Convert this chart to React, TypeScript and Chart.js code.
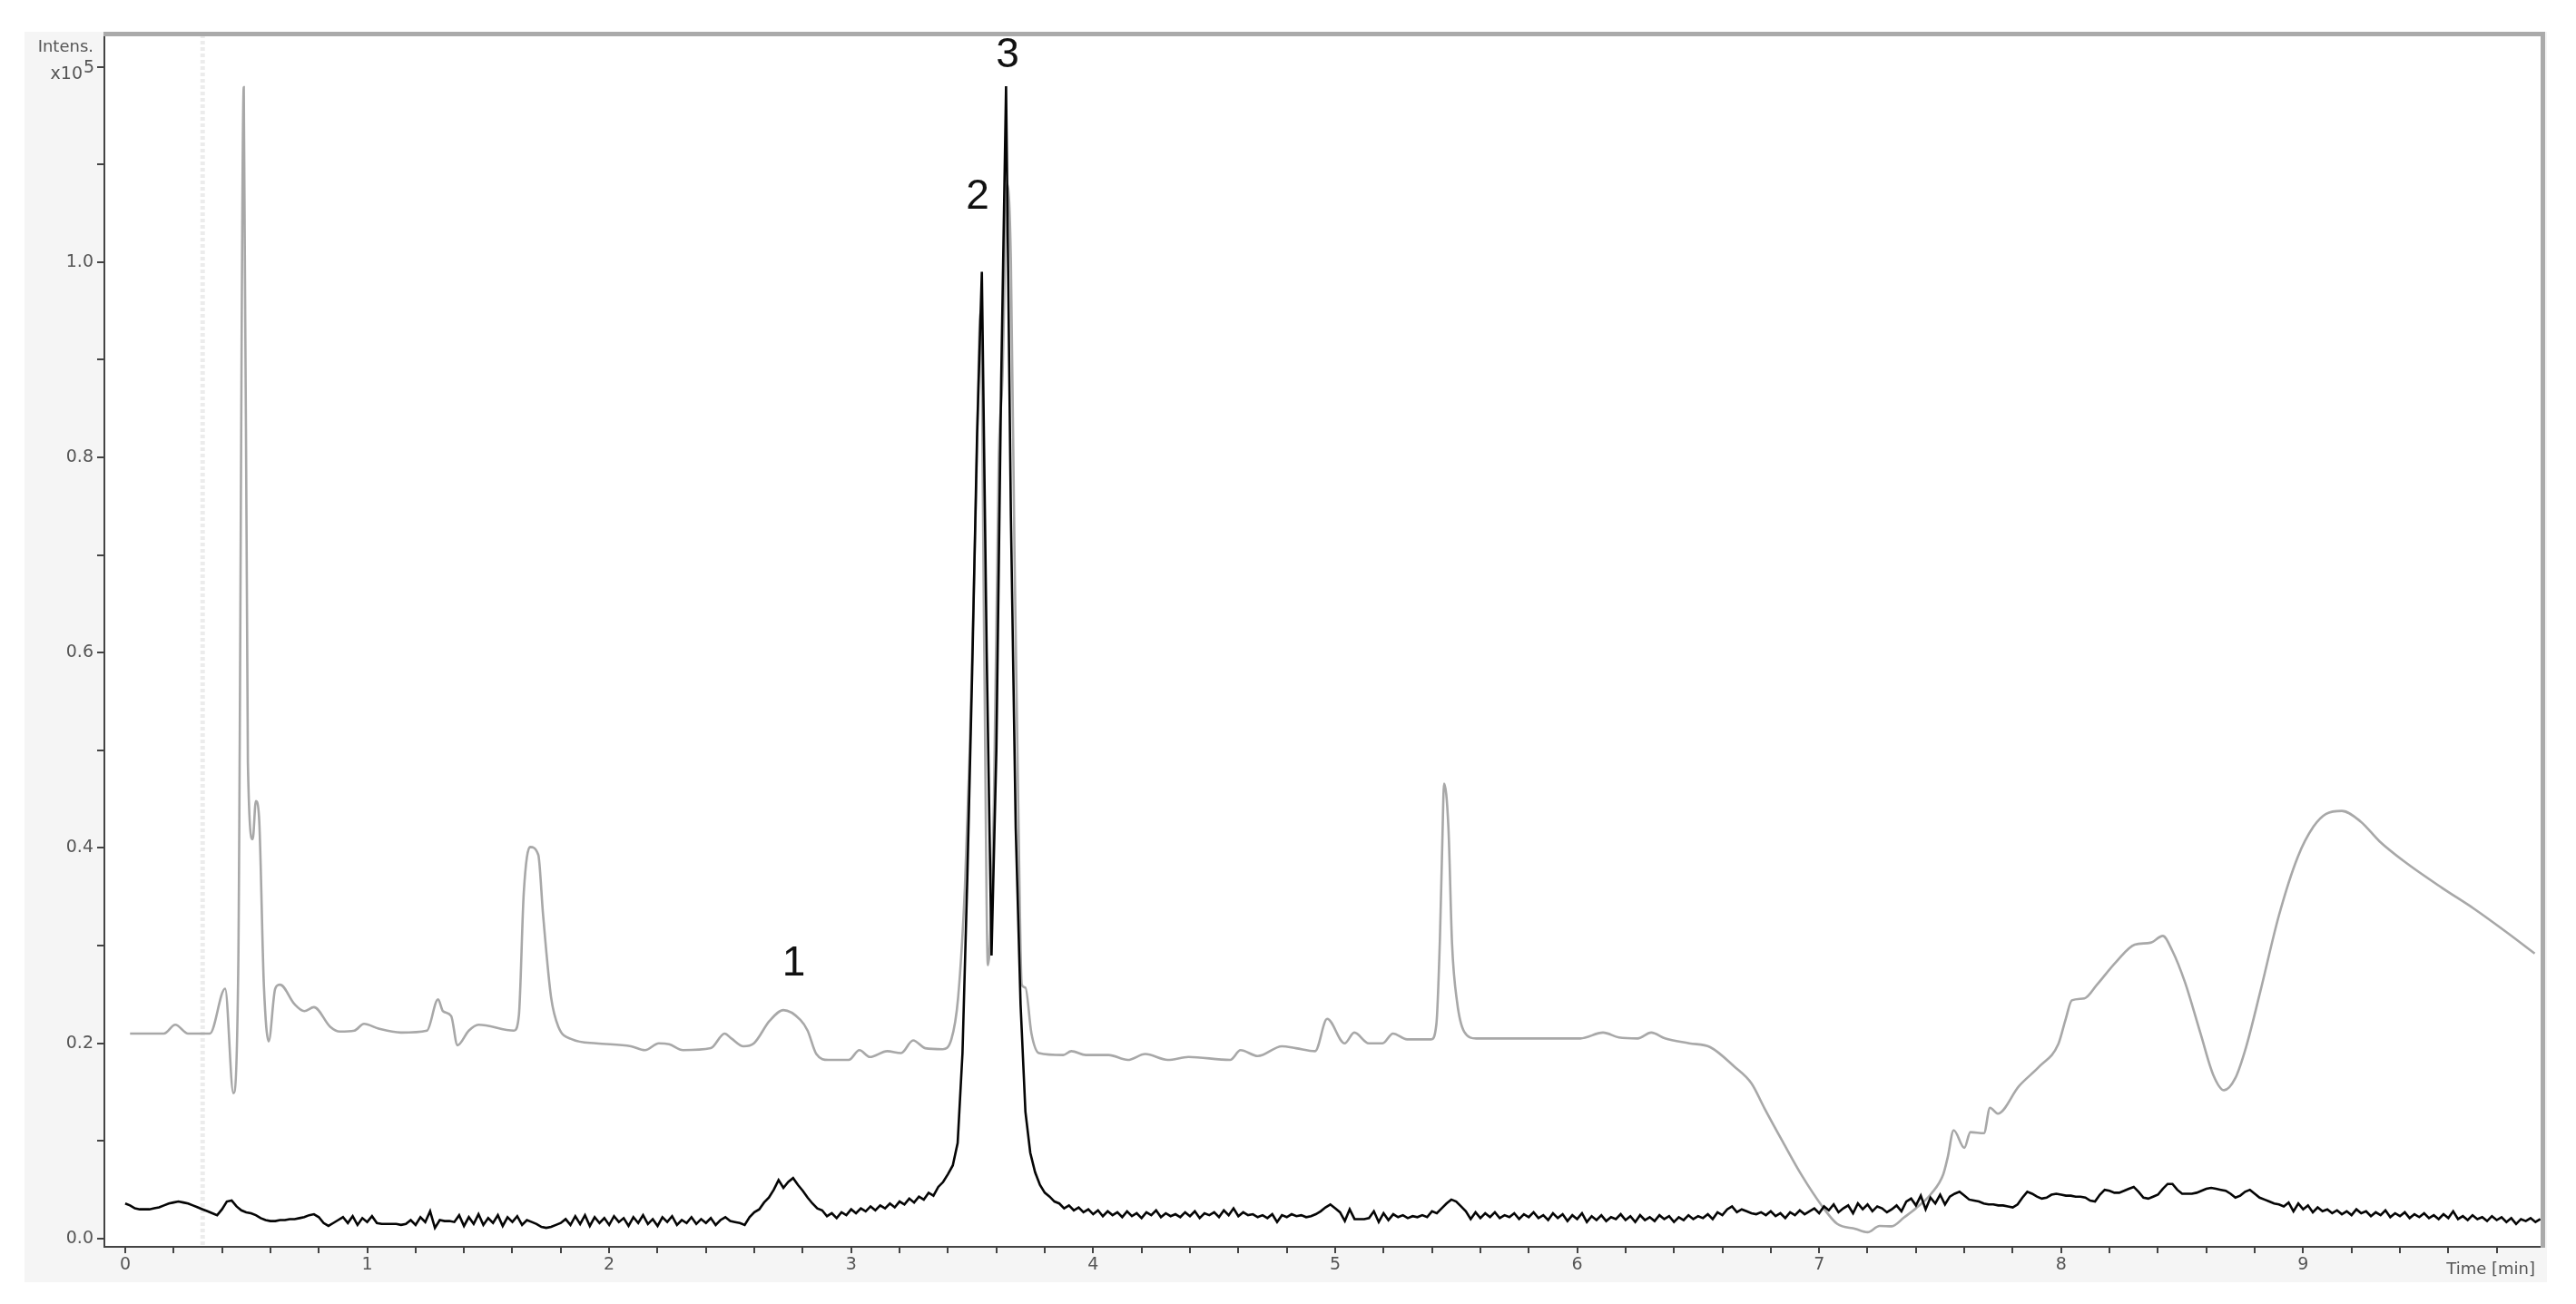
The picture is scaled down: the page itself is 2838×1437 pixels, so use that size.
import React, { useEffect, useRef } from 'react';
import { Chart, registerables } from 'chart.js';

Chart.register(...registerables);

// ---- DATA ----
// Black trace (EIC), sampled every 0.02 min from 0.00 min, intensity in x10^5
const BLACK_T0 = 0;
const BLACK_STEP = 0.02;
const BLACK_VALUES = [
  0.036, 0.034, 0.031, 0.030, 0.030, 0.030, 0.031, 0.032, 0.034, 0.036, 0.037, 0.038, 0.037, 0.036, 0.034, 0.032, 0.030, 0.028, 0.026, 0.024, 0.030, 0.038, 0.039, 0.033, 0.029,
  0.027, 0.026, 0.024, 0.021, 0.019, 0.018, 0.018, 0.019, 0.019, 0.020, 0.020, 0.021, 0.022, 0.024, 0.025, 0.022, 0.016, 0.013, 0.016, 0.019, 0.022, 0.016, 0.023, 0.014, 0.021,
  0.017, 0.023, 0.016, 0.015, 0.015, 0.015, 0.015, 0.014, 0.015, 0.019, 0.014, 0.022, 0.017, 0.028, 0.011, 0.019, 0.018, 0.018, 0.017, 0.024, 0.013, 0.022, 0.015, 0.025, 0.014,
  0.021, 0.016, 0.024, 0.013, 0.022, 0.017, 0.023, 0.014, 0.019, 0.017, 0.015, 0.012, 0.011, 0.012, 0.014, 0.016, 0.020, 0.014, 0.023, 0.015, 0.024, 0.013, 0.022, 0.016, 0.021,
  0.014, 0.023, 0.017, 0.021, 0.013, 0.022, 0.016, 0.024, 0.015, 0.020, 0.013, 0.022, 0.017, 0.023, 0.014, 0.019, 0.016, 0.022, 0.015, 0.020, 0.016, 0.021, 0.014, 0.019, 0.022,
  0.018, 0.017, 0.016, 0.014, 0.022, 0.027, 0.030, 0.037, 0.042, 0.050, 0.060, 0.052, 0.058, 0.062, 0.055, 0.049, 0.042, 0.036, 0.031, 0.029, 0.023, 0.026, 0.021, 0.027, 0.024,
  0.030, 0.026, 0.031, 0.028, 0.033, 0.029, 0.034, 0.031, 0.036, 0.032, 0.038, 0.035, 0.041, 0.037, 0.043, 0.040, 0.047, 0.044, 0.053, 0.058, 0.066, 0.075, 0.098, 0.190, 0.370,
  0.580, 0.820, 0.990, 0.600, 0.290, 0.500, 0.880, 1.180, 0.740, 0.420, 0.240, 0.130, 0.088, 0.068, 0.055, 0.047, 0.043, 0.038, 0.036, 0.031, 0.034, 0.029, 0.032, 0.027, 0.030,
  0.025, 0.029, 0.023, 0.028, 0.024, 0.027, 0.022, 0.028, 0.023, 0.026, 0.021, 0.027, 0.024, 0.029, 0.022, 0.026, 0.023, 0.025, 0.022, 0.027, 0.023, 0.028, 0.021, 0.026, 0.024,
  0.027, 0.022, 0.029, 0.024, 0.031, 0.023, 0.027, 0.024, 0.025, 0.022, 0.024, 0.021, 0.025, 0.017, 0.024, 0.022, 0.025, 0.023, 0.024, 0.022, 0.023, 0.025, 0.028, 0.032, 0.035,
  0.031, 0.027, 0.018, 0.030, 0.020, 0.020, 0.020, 0.021, 0.028, 0.017, 0.026, 0.019, 0.025, 0.022, 0.024, 0.021, 0.023, 0.022, 0.024, 0.022, 0.028, 0.026, 0.031, 0.036, 0.040,
  0.038, 0.033, 0.028, 0.020, 0.027, 0.021, 0.026, 0.022, 0.027, 0.021, 0.024, 0.022, 0.026, 0.020, 0.025, 0.022, 0.027, 0.021, 0.024, 0.019, 0.026, 0.021, 0.025, 0.018, 0.024,
  0.020, 0.026, 0.017, 0.023, 0.019, 0.024, 0.018, 0.022, 0.020, 0.025, 0.019, 0.023, 0.017, 0.024, 0.019, 0.022, 0.018, 0.024, 0.020, 0.023, 0.017, 0.022, 0.019, 0.024, 0.020,
  0.023, 0.021, 0.025, 0.020, 0.027, 0.024, 0.030, 0.033, 0.027, 0.030, 0.028, 0.026, 0.025, 0.027, 0.024, 0.028, 0.023, 0.026, 0.021, 0.027, 0.024, 0.029, 0.025, 0.028, 0.031,
  0.026, 0.033, 0.029, 0.035, 0.027, 0.031, 0.034, 0.026, 0.036, 0.030, 0.035, 0.028, 0.033, 0.031, 0.027, 0.030, 0.034, 0.028, 0.038, 0.041, 0.034, 0.044, 0.030, 0.042, 0.036,
  0.045, 0.035, 0.043, 0.046, 0.048, 0.044, 0.040, 0.039, 0.038, 0.036, 0.035, 0.035, 0.034, 0.034, 0.033, 0.032, 0.035, 0.042, 0.048, 0.046, 0.043, 0.041, 0.042, 0.045, 0.046,
  0.045, 0.044, 0.044, 0.043, 0.043, 0.042, 0.039, 0.038, 0.045, 0.050, 0.049, 0.047, 0.047, 0.049, 0.051, 0.053, 0.048, 0.042, 0.041, 0.043, 0.045, 0.051, 0.056, 0.056, 0.050,
  0.046, 0.046, 0.046, 0.047, 0.049, 0.051, 0.052, 0.051, 0.050, 0.049, 0.046, 0.042, 0.044, 0.048, 0.050, 0.046, 0.042, 0.040, 0.038, 0.036, 0.035, 0.033, 0.037, 0.028, 0.036,
  0.030, 0.034, 0.027, 0.032, 0.028, 0.030, 0.026, 0.029, 0.025, 0.028, 0.024, 0.030, 0.026, 0.028, 0.023, 0.027, 0.024, 0.029, 0.022, 0.026, 0.023, 0.027, 0.021, 0.025, 0.022,
  0.026, 0.021, 0.024, 0.020, 0.025, 0.021, 0.028, 0.020, 0.023, 0.019, 0.024, 0.020, 0.022, 0.018, 0.023, 0.019, 0.022, 0.017, 0.021, 0.015, 0.020, 0.018, 0.021, 0.017, 0.020,
];

// Gray trace (TIC): retention times (min) and intensities (x10^5)
const GRAY_TIMES = [
  0.02, 0.16, 0.207, 0.26, 0.35, 0.413, 0.447, 0.467, 0.49, 0.507, 0.527, 0.54, 0.553, 0.573, 0.593, 0.62, 0.64, 0.7, 0.74, 0.78,
  0.847, 0.887, 0.947, 0.987, 1.047, 1.14, 1.247, 1.293, 1.313, 1.347, 1.373, 1.42, 1.46, 1.607, 1.627, 1.647, 1.673, 1.707, 1.727, 1.76,
  1.79, 1.847, 1.947, 2.09, 2.148, 2.205, 2.248, 2.305, 2.42, 2.477, 2.505, 2.555, 2.598, 2.663, 2.72, 2.79, 2.82, 2.856, 2.906, 2.99,
  3.034, 3.077, 3.149, 3.206, 3.256, 3.306, 3.378, 3.414, 3.442, 3.47, 3.49, 3.515, 3.535, 3.55, 3.565, 3.59, 3.61, 3.625, 3.645, 3.66,
  3.675, 3.69, 3.705, 3.72, 3.745, 3.776, 3.876, 3.91, 3.97, 4.064, 4.143, 4.215, 4.308, 4.394, 4.566, 4.609, 4.68, 4.78, 4.838, 4.917,
  4.967, 5.039, 5.079, 5.139, 5.196, 5.239, 5.297, 5.397, 5.418, 5.433, 5.443, 5.45, 5.468, 5.483, 5.504, 5.533, 5.583, 6.013, 6.107, 6.172,
  6.25, 6.306, 6.363, 6.463, 6.55, 6.65, 6.72, 6.775, 6.85, 6.925, 7.013, 7.075, 7.15, 7.2, 7.25, 7.3, 7.35, 7.4, 7.463, 7.513,
  7.531, 7.556, 7.6, 7.625, 7.681, 7.706, 7.738, 7.825, 7.913, 7.988, 8.019, 8.044, 8.096, 8.148, 8.226, 8.304, 8.369, 8.42, 8.459, 8.511,
  8.576, 8.628, 8.673, 8.719, 8.764, 8.823, 8.9, 8.978, 9.043, 9.095, 9.16, 9.238, 9.315, 9.419, 9.575, 9.705, 9.834, 9.957,
];
const GRAY_VALUES = [
  0.21, 0.21, 0.219, 0.21, 0.21, 0.256, 0.149, 0.272, 1.179, 0.487, 0.409, 0.448, 0.432, 0.26, 0.202, 0.256, 0.26, 0.24, 0.233, 0.237,
  0.217, 0.212, 0.213, 0.22, 0.215, 0.211, 0.213, 0.245, 0.233, 0.228, 0.198, 0.213, 0.219, 0.213, 0.229, 0.354, 0.401, 0.393, 0.331, 0.247,
  0.217, 0.204, 0.2, 0.197, 0.193, 0.2, 0.199, 0.193, 0.195, 0.21, 0.205, 0.197, 0.2, 0.223, 0.234, 0.224, 0.213, 0.189, 0.183, 0.183,
  0.193, 0.186, 0.192, 0.19, 0.203, 0.195, 0.194, 0.204, 0.247, 0.36, 0.5, 0.75, 0.95, 0.6, 0.28, 0.45, 0.8, 0.88, 1.08, 1.0,
  0.7, 0.45, 0.26, 0.257, 0.21, 0.19, 0.188, 0.192, 0.188, 0.188, 0.183, 0.189, 0.183, 0.186, 0.183, 0.193, 0.187, 0.197, 0.195, 0.192,
  0.225, 0.2, 0.211, 0.2, 0.2, 0.21, 0.204, 0.204, 0.219, 0.308, 0.408, 0.466, 0.421, 0.302, 0.242, 0.212, 0.205, 0.205, 0.211, 0.206,
  0.205, 0.211, 0.205, 0.2, 0.196, 0.176, 0.159, 0.133, 0.099, 0.066, 0.033, 0.015, 0.01, 0.0066, 0.013, 0.0126, 0.0215, 0.031, 0.046, 0.066,
  0.083, 0.111, 0.093, 0.109, 0.108, 0.134, 0.128, 0.156, 0.177, 0.199, 0.225, 0.244, 0.246, 0.26, 0.283, 0.301, 0.303, 0.31, 0.295, 0.263,
  0.21, 0.168, 0.152, 0.164, 0.196, 0.253, 0.331, 0.391, 0.422, 0.435, 0.438, 0.427, 0.407, 0.386, 0.359, 0.338, 0.315, 0.292,
];

const X_TICK_LABELS = ['0', '1', '2', '3', '4', '5', '6', '7', '8', '9'];
const Y_TICK_LABELS = ['0.0', '0.2', '0.4', '0.6', '0.8', '1.0'];
const X_AXIS_TITLE = 'Time [min]';
const Y_AXIS_TITLE = 'Intens.';
const Y_UNIT = 'x10';
const Y_EXP = '5';
const PEAK_LABELS = ['1', '2', '3'];
const PEAK_LABEL_T = [2.763, 3.522, 3.646];
const PEAK_LABEL_V = [0.281, 1.066, 1.211];
const MARKER_T = 0.32;

// ---- STYLE ----
const TICK_FONT = '"DejaVu Sans", Verdana, sans-serif';
const W = 2838;
const H = 1437;

const decorPlugin = {
  id: 'decor',
  beforeDraw(chart: any) {
    const ctx = chart.ctx;
    const a = chart.chartArea;
    ctx.save();
    ctx.fillStyle = '#f5f5f5';
    ctx.fillRect(27, 35, 2806 - 27, 1413 - 35);
    ctx.fillStyle = '#ffffff';
    ctx.fillRect(a.left, a.top, a.right - a.left, a.bottom - a.top);
    ctx.restore();
  },
  beforeDatasetsDraw(chart: any) {
    const ctx = chart.ctx;
    const a = chart.chartArea;
    const x = chart.scales.x.getPixelForValue(MARKER_T);
    ctx.save();
    ctx.strokeStyle = '#ececec';
    ctx.lineWidth = 5;
    ctx.setLineDash([4, 3]);
    ctx.beginPath();
    ctx.moveTo(x, a.top);
    ctx.lineTo(x, a.bottom);
    ctx.stroke();
    ctx.restore();
  },
  afterDraw(chart: any) {
    const ctx = chart.ctx;
    const a = chart.chartArea;
    const xs = chart.scales.x;
    const ys = chart.scales.y;
    ctx.save();
    // top and right frame
    ctx.strokeStyle = '#aaaaaa';
    ctx.lineWidth = 5;
    ctx.beginPath();
    ctx.moveTo(a.left - 1, a.top - 0.5);
    ctx.lineTo(a.right + 1.5, a.top - 0.5);
    ctx.lineTo(a.right + 1.5, a.bottom + 1);
    ctx.stroke();

    // y axis title
    ctx.fillStyle = '#555555';
    ctx.font = `18px ${TICK_FONT}`;
    ctx.textAlign = 'right';
    ctx.textBaseline = 'alphabetic';
    ctx.fillText(Y_AXIS_TITLE, 103, 57);
    const py = ys.getPixelForValue(1.2);
    ctx.font = `19px ${TICK_FONT}`;
    ctx.fillText(Y_UNIT, 91, py + 13);
    ctx.textAlign = 'left';
    ctx.fillText(Y_EXP, 92, py + 6);

    // x axis title
    ctx.textAlign = 'right';
    ctx.font = `18px ${TICK_FONT}`;
    ctx.fillText(X_AXIS_TITLE, 2793, 1404);

    // peak labels
    ctx.fillStyle = '#111111';
    ctx.font = '46px "Liberation Sans", Arial, sans-serif';
    ctx.textAlign = 'center';
    ctx.textBaseline = 'middle';
    PEAK_LABELS.forEach((lab, i) => {
      ctx.fillText(lab, xs.getPixelForValue(PEAK_LABEL_T[i]), ys.getPixelForValue(PEAK_LABEL_V[i]));
    });
    ctx.restore();
  },
};

export default function App() {
  const ref = useRef<HTMLCanvasElement | null>(null);

  useEffect(() => {
    if (!ref.current) return;
    const blackData = BLACK_VALUES.map((v, i) => ({ x: BLACK_T0 + i * BLACK_STEP, y: v }));
    const grayData = GRAY_TIMES.map((t, i) => ({ x: t, y: GRAY_VALUES[i] }));

    const chart = new Chart(ref.current, {
      type: 'line',
      data: {
        datasets: [
          {
            label: 'EIC',
            data: blackData,
            borderColor: '#050505',
            borderWidth: 2.6,
            pointRadius: 0,
            tension: 0,
          },
          {
            label: 'TIC',
            data: grayData,
            borderColor: '#a8a8a8',
            borderWidth: 2.6,
            pointRadius: 0,
            cubicInterpolationMode: 'monotone',
          },
        ],
      },
      options: {
        animation: false,
        responsive: false,
        devicePixelRatio: 1,
        layout: { padding: { top: 38, right: 38, bottom: 0, left: 0 } },
        plugins: { legend: { display: false }, tooltip: { enabled: false } },
        scales: {
          x: {
            type: 'linear',
            min: -0.086,
            max: 9.985,
            afterBuildTicks: (scale: any) => {
              const ticks = [];
              for (let i = 0; i < 50; i++) ticks.push({ value: i * 0.2 });
              scale.ticks = ticks;
            },
            afterFit: (scale: any) => {
              scale.height = 63;
            },
            ticks: {
              autoSkip: false,
              maxRotation: 0,
              padding: 2,
              color: '#555555',
              font: { family: TICK_FONT, size: 19 },
              callback: (value: any) => {
                const r = Math.round(value);
                return Math.abs(value - r) < 1e-6 ? X_TICK_LABELS[r] ?? '' : '';
              },
            },
            grid: {
              display: true,
              drawOnChartArea: false,
              drawTicks: true,
              tickLength: 7,
              color: '#444444',
              lineWidth: 2,
            },
            border: { display: true, color: '#444444', width: 2 },
          },
          y: {
            type: 'linear',
            min: -0.0084,
            max: 1.233,
            afterBuildTicks: (scale: any) => {
              const ticks = [];
              for (let i = 0; i <= 12; i++) ticks.push({ value: i * 0.1 });
              scale.ticks = ticks;
            },
            afterFit: (scale: any) => {
              scale.width = 115;
            },
            ticks: {
              autoSkip: false,
              padding: 4,
              color: '#555555',
              font: { family: TICK_FONT, size: 19 },
              callback: (value: any) => {
                const k = Math.round(value * 10);
                if (k % 2 === 0 && k / 2 < Y_TICK_LABELS.length) return Y_TICK_LABELS[k / 2];
                return '';
              },
            },
            grid: {
              display: true,
              drawOnChartArea: false,
              drawTicks: true,
              tickLength: 8,
              color: '#444444',
              lineWidth: 2,
            },
            border: { display: true, color: '#444444', width: 2 },
          },
        },
      },
      plugins: [decorPlugin],
    } as any);

    return () => chart.destroy();
  }, []);

  return (
    <div style={{ position: 'absolute', left: 0, top: 0, width: W, height: H, background: '#ffffff' }}>
      <canvas ref={ref} width={W} height={H} style={{ display: 'block', width: W, height: H }} />
    </div>
  );
}
